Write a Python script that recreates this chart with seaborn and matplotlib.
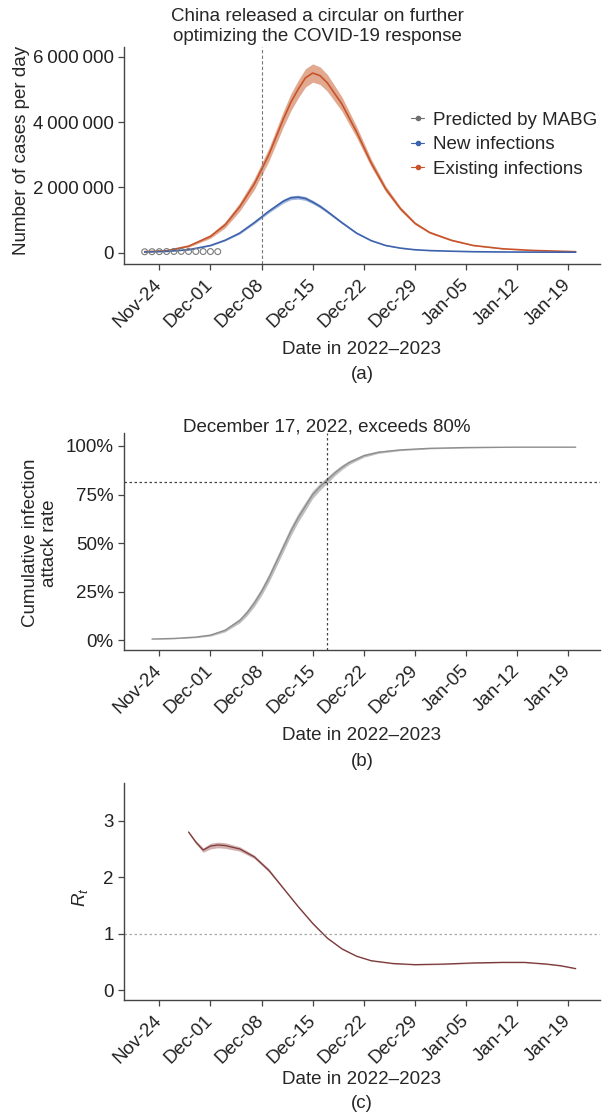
import numpy as np
import pandas as pd
import matplotlib
matplotlib.use('Agg')
import matplotlib.pyplot as plt
from matplotlib.lines import Line2D
from matplotlib.ticker import PercentFormatter
import seaborn as sns

# ---- data ----
# panel (a): cases per day, millions
dates_a = ['2022-11-22', '2022-11-25', '2022-11-28', '2022-12-01', '2022-12-03', '2022-12-05',
           '2022-12-07', '2022-12-09', '2022-12-11', '2022-12-12', '2022-12-13', '2022-12-14',
           '2022-12-15', '2022-12-16', '2022-12-17', '2022-12-19', '2022-12-21', '2022-12-23',
           '2022-12-25', '2022-12-27', '2022-12-29', '2022-12-31', '2023-01-03', '2023-01-06',
           '2023-01-10', '2023-01-14', '2023-01-20']
existing_m = [0.03, 0.06, 0.2, 0.5, 0.85, 1.4, 2.1, 3.0, 4.1, 4.6, 5.0, 5.35, 5.5, 5.42,
              5.2, 4.55, 3.7, 2.75, 1.95, 1.35, 0.9, 0.62, 0.38, 0.22, 0.12, 0.07, 0.03]
existing_hw = [0.005, 0.01, 0.03, 0.06, 0.09, 0.13, 0.17, 0.2, 0.24, 0.26, 0.27, 0.28, 0.28,
               0.27, 0.26, 0.22, 0.17, 0.12, 0.09, 0.06, 0.04, 0.03, 0.02, 0.01, 0.006, 0.004, 0.002]
new_m = [0.02, 0.04, 0.09, 0.22, 0.38, 0.6, 0.92, 1.27, 1.58, 1.68, 1.70, 1.66, 1.55, 1.42,
         1.26, 0.92, 0.6, 0.37, 0.22, 0.14, 0.09, 0.065, 0.045, 0.03, 0.022, 0.018, 0.015]
new_hw = [0.002, 0.004, 0.008, 0.015, 0.02, 0.03, 0.04, 0.05, 0.06, 0.06, 0.06, 0.06, 0.055,
          0.05, 0.045, 0.035, 0.025, 0.015, 0.01, 0.007, 0.005, 0.004, 0.003, 0.002, 0.002, 0.001, 0.001]
obs_dates = ['2022-11-22', '2022-11-23', '2022-11-24', '2022-11-25', '2022-11-26', '2022-11-27',
             '2022-11-28', '2022-11-29', '2022-11-30', '2022-12-01', '2022-12-02']
obs_cases = [28000, 31000, 32000, 35000, 39000, 40000, 38000, 37000, 36000, 35000, 33000]
circular_date = '2022-12-08'

# panel (b): cumulative attack rate, %
dates_b = ['2022-11-23', '2022-11-26', '2022-11-29', '2022-12-01', '2022-12-03', '2022-12-05',
           '2022-12-06', '2022-12-07', '2022-12-08', '2022-12-09', '2022-12-10', '2022-12-11',
           '2022-12-12', '2022-12-13', '2022-12-14', '2022-12-15', '2022-12-16', '2022-12-17',
           '2022-12-18', '2022-12-19', '2022-12-20', '2022-12-22', '2022-12-24', '2022-12-27',
           '2022-12-31', '2023-01-05', '2023-01-12', '2023-01-20']
attack = [0.5, 0.8, 1.5, 2.5, 5, 10, 14, 19, 25, 32, 40, 48, 56, 63, 69, 75, 79, 82.5, 86,
          89, 91.5, 95, 96.8, 98, 98.8, 99.2, 99.4, 99.4]
attack_hw = [0.1, 0.2, 0.3, 0.5, 0.8, 1.2, 1.5, 1.8, 2.0, 2.2, 2.3, 2.4, 2.4, 2.3, 2.2, 2.0,
             1.8, 1.6, 1.4, 1.2, 1.0, 0.8, 0.6, 0.4, 0.3, 0.2, 0.1, 0.1]
cross_date = '2022-12-17'
cross_level = 81.5

# panel (c): Rt
dates_c = ['2022-11-28', '2022-11-29', '2022-11-30', '2022-12-01', '2022-12-02', '2022-12-03',
           '2022-12-05', '2022-12-07', '2022-12-09', '2022-12-11', '2022-12-13', '2022-12-15',
           '2022-12-17', '2022-12-19', '2022-12-21', '2022-12-23', '2022-12-26', '2022-12-29',
           '2023-01-02', '2023-01-06', '2023-01-10', '2023-01-13', '2023-01-16', '2023-01-18',
           '2023-01-20']
rt = [2.80, 2.62, 2.48, 2.55, 2.57, 2.56, 2.50, 2.36, 2.12, 1.80, 1.48, 1.18, 0.92, 0.73,
      0.60, 0.52, 0.47, 0.45, 0.46, 0.48, 0.49, 0.49, 0.46, 0.43, 0.38]
rt_hw = [0.02, 0.03, 0.04, 0.05, 0.05, 0.05, 0.04, 0.03, 0.03, 0.02, 0.02, 0.02, 0.015, 0.015,
         0.01, 0.01, 0.01, 0.01, 0.01, 0.01, 0.01, 0.01, 0.01, 0.01, 0.01]

tick_dates = ['2022-11-24', '2022-12-01', '2022-12-08', '2022-12-15', '2022-12-22',
              '2022-12-29', '2023-01-05', '2023-01-12', '2023-01-19']
tick_labels = ['Nov-24', 'Dec-01', 'Dec-08', 'Dec-15', 'Dec-22', 'Dec-29', 'Jan-05', 'Jan-12', 'Jan-19']
y_ticks_a = [0, 2000000, 4000000, 6000000]
y_labels_a = ['0', '2\u2009000\u2009000', '4\u2009000\u2009000', '6\u2009000\u2009000']

# ---- style ----
sns.set_style('ticks')
plt.rcParams['font.family'] = ['Liberation Sans', 'DejaVu Sans']
plt.rcParams['mathtext.fontset'] = 'custom'
plt.rcParams['mathtext.rm'] = 'Liberation Sans'
plt.rcParams['mathtext.it'] = 'Liberation Sans:italic'
FS = 13.5
AX_C = '#444444'
ORANGE, ORANGE_F = '#c8532b', '#dc9a7c'
BLUE, BLUE_F = '#3e63ad', '#93a9d6'
GREY, GREY_F = '#8e8e8e', '#bcbcbc'
RT, RT_F = '#7a3a3a', '#cfa6a6'

W, H = 603, 1116
fig = plt.figure(figsize=(W / 100, H / 100), dpi=100)


def px_axes(top, bottom, left=124, right=600):
    return fig.add_axes([left / W, 1 - bottom / H, (right - left) / W, (bottom - top) / H])


xmin = pd.Timestamp('2022-11-24') - pd.Timedelta(hours=116)
xmax = pd.Timestamp('2023-01-19') + pd.Timedelta(hours=104)


def style_axes(ax):
    sns.despine(ax=ax)
    for s in ['left', 'bottom']:
        ax.spines[s].set_color(AX_C)
        ax.spines[s].set_linewidth(1.0)
    ax.tick_params(colors='#222222', labelsize=FS, length=4, width=0.9, direction='out')
    ax.tick_params(axis='both', color=AX_C)
    ax.set_xlim(xmin, xmax)
    ax.set_xticks(pd.to_datetime(tick_dates))
    ax.set_xticklabels(tick_labels, rotation=45, ha='right', va='center',
                       rotation_mode='anchor')
    ax.tick_params(axis='x', pad=9)
    ax.set_xlabel('')
    ax.set_ylabel('')
    ax.grid(False)


def bottom_labels(axis_bottom, tag, d1=85, d2=111):
    cx = (124 + 600) / 2 / W
    fig.text(cx, 1 - (axis_bottom + d1) / H, 'Date in 2022\u20132023', ha='center', va='center', fontsize=FS)
    fig.text(cx, 1 - (axis_bottom + d2) / H, tag, ha='center', va='center', fontsize=FS)


# ---- panel (a) ----
ax1 = px_axes(46.7, 264)
da = pd.to_datetime(dates_a)
ex = np.array(existing_m) * 1e6
exh = np.array(existing_hw) * 1e6
nw = np.array(new_m) * 1e6
nwh = np.array(new_hw) * 1e6
ax1.fill_between(da, ex - exh, ex + exh, color=ORANGE_F, alpha=0.85, lw=0)
ax1.fill_between(da, nw - nwh, nw + nwh, color=BLUE_F, alpha=0.85, lw=0)
sns.lineplot(x=da, y=ex, ax=ax1, color=ORANGE, lw=1.2)
sns.lineplot(x=da, y=nw, ax=ax1, color=BLUE, lw=1.2)
sns.scatterplot(x=pd.to_datetime(obs_dates), y=obs_cases, ax=ax1, marker='o', s=18,
                facecolor='none', edgecolor='#7a7a7a', linewidth=0.8, legend=False, zorder=5)
ax1.axvline(pd.Timestamp(circular_date), color='#777777', lw=0.8, ls=(0, (3, 2)))
style_axes(ax1)
ax1.set_ylim(-346000, 6306000)
ax1.set_yticks(y_ticks_a)
ax1.set_yticklabels(y_labels_a)
handles = [Line2D([], [], color='#6f6f6f', marker='o', markersize=3, lw=0.8),
           Line2D([], [], color=BLUE, marker='o', markersize=3, lw=0.8),
           Line2D([], [], color=ORANGE, marker='o', markersize=3, lw=0.8)]
ax1.legend(handles, ['Predicted by MABG', 'New infections', 'Existing infections'],
           loc='upper left', bbox_to_anchor=(0.603, 0.70), frameon=False, fontsize=FS,
           handlelength=0.7, handletextpad=0.45, labelspacing=0.38, borderpad=0, borderaxespad=0)
fig.text(317 / W, 1 - 26.5 / H, 'China released a circular on further\noptimizing the COVID-19 response',
         ha='center', va='center', fontsize=FS, linespacing=1.25)
fig.text(22 / W, 1 - 150 / H, 'Number of cases per day', rotation=90, ha='center', va='center', fontsize=FS)
bottom_labels(264, '(a)')

# ---- panel (b) ----
ax2 = px_axes(433, 650)
db = pd.to_datetime(dates_b)
at = np.array(attack)
ath = np.array(attack_hw)
ax2.fill_between(db, at - ath, at + ath, color=GREY_F, alpha=0.95, lw=0)
sns.lineplot(x=db, y=at, ax=ax2, color=GREY, lw=1.0)
ax2.axvline(pd.Timestamp(cross_date), color='#444444', lw=0.9, ls=(0, (2, 2)))
ax2.axhline(cross_level, color='#444444', lw=0.9, ls=(0, (2, 2)))
style_axes(ax2)
ax2.set_ylim(-5.15, 106.7)
ax2.set_yticks([0, 25, 50, 75, 100])
ax2.yaxis.set_major_formatter(PercentFormatter(decimals=0))
fig.text(327 / W, 1 - 427 / H, 'December 17, 2022, exceeds 80%', ha='center', va='center', fontsize=FS)
fig.text(40 / W, 1 - 543 / H, 'Cumulative infection\nattack rate', rotation=90, ha='center',
         va='center', fontsize=FS, linespacing=1.15)
bottom_labels(650, '(b)')

# ---- panel (c) ----
ax3 = px_axes(783, 1000)
dc = pd.to_datetime(dates_c)
r = np.array(rt)
rh = np.array(rt_hw)
ax3.fill_between(dc, r - rh, r + rh, color=RT_F, alpha=0.9, lw=0)
sns.lineplot(x=dc, y=r, ax=ax3, color=RT, lw=0.9)
ax3.axhline(1, color='#aaaaaa', lw=0.9, ls=(0, (2, 2)))
style_axes(ax3)
ax3.set_ylim(-0.177, 3.668)
ax3.set_yticks([0, 1, 2, 3])
fig.text(80 / W, 1 - 897 / H, r'$R_t$', rotation=90, ha='center', va='center', fontsize=FS)
bottom_labels(1000, '(c)', d1=80, d2=103)

fig.savefig('out.png', dpi=100, facecolor='white')
